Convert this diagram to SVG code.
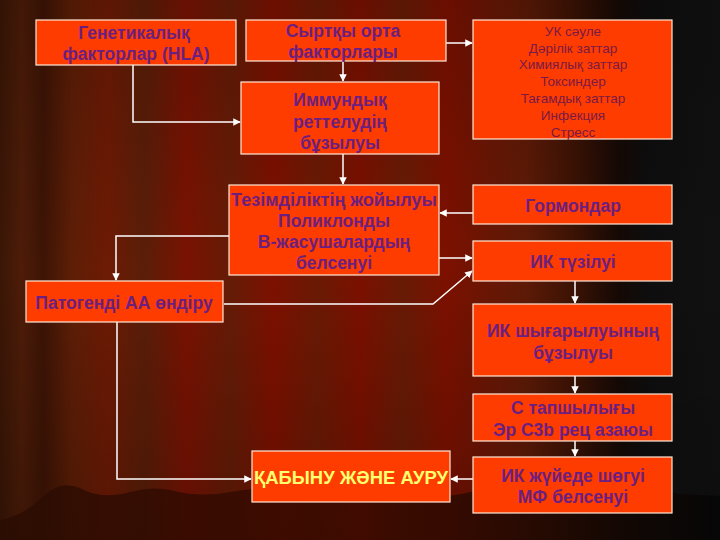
<svg xmlns="http://www.w3.org/2000/svg" width="720" height="540" viewBox="0 0 720 540">
<defs>
<linearGradient id="stripes" x1="0" y1="0" x2="1" y2="0">
<stop offset="0" stop-color="#3a1606"/>
<stop offset="0.03" stop-color="#4e1c08"/>
<stop offset="0.06" stop-color="#3d1405"/>
<stop offset="0.1" stop-color="#5e1e06"/>
<stop offset="0.15" stop-color="#6e1a04"/>
<stop offset="0.2" stop-color="#5a1e08"/>
<stop offset="0.26" stop-color="#7a1202"/>
<stop offset="0.32" stop-color="#651c06"/>
<stop offset="0.38" stop-color="#7e1000"/>
<stop offset="0.44" stop-color="#6a1a04"/>
<stop offset="0.5" stop-color="#7c1000"/>
<stop offset="0.56" stop-color="#681b05"/>
<stop offset="0.62" stop-color="#7d1000"/>
<stop offset="0.68" stop-color="#6a1604"/>
<stop offset="0.73" stop-color="#5e1a06"/>
<stop offset="0.8" stop-color="#3a1204"/>
<stop offset="0.86" stop-color="#150905"/>
<stop offset="0.9" stop-color="#0e0e0e"/>
<stop offset="1" stop-color="#111111"/>
</linearGradient>
<linearGradient id="shade" x1="0" y1="0" x2="0" y2="1">
<stop offset="0" stop-color="#000" stop-opacity="0.15"/>
<stop offset="0.5" stop-color="#000" stop-opacity="0"/>
<stop offset="1" stop-color="#000" stop-opacity="0.2"/>
</linearGradient>
<linearGradient id="floor" x1="0" y1="0" x2="1" y2="0">
<stop offset="0" stop-color="#2a0c02"/>
<stop offset="0.5" stop-color="#3a0a00"/>
<stop offset="0.8" stop-color="#1a0802"/>
<stop offset="1" stop-color="#050505"/>
</linearGradient>
<marker id="ah" viewBox="0 0 10 10" refX="9" refY="5" markerWidth="5" markerHeight="5" orient="auto" markerUnits="strokeWidth">
<path d="M0,0 L10,5 L0,10 z" fill="#ffffff"/>
</marker>
<style>
.box{fill:#ff3c00;stroke:#ffe8d8;stroke-width:1.2}
.t{font-family:"Liberation Sans",Arial,sans-serif;font-weight:bold;font-size:17.5px;fill:#6b1f80;text-anchor:middle}
.s{font-family:"Liberation Sans",Arial,sans-serif;font-size:13.5px;fill:#7a1a45;text-anchor:middle}
.y{font-family:"Liberation Sans",Arial,sans-serif;font-weight:bold;font-size:19px;fill:#ffff70;text-anchor:middle}
.c{fill:none;stroke:#ffffff;stroke-width:1.5}
</style>
</defs>
<g id="background">
<rect width="720" height="540" fill="url(#stripes)"/>
<rect width="720" height="540" fill="url(#shade)"/>
<path d="M0,520 Q25,515 45,495 Q60,480 80,488 Q100,500 130,492 Q150,486 170,490 Q200,498 230,492 Q260,486 290,492 Q320,498 350,490 Q380,484 410,492 Q440,500 470,492 Q500,486 530,494 Q560,500 600,492 Q640,486 680,494 L720,496 L720,540 L0,540 Z" fill="url(#floor)" opacity="0.85"/>
</g>
<g id="connectors">
<path class="c" d="M133,65 V122 H240" marker-end="url(#ah)"/>
<path class="c" d="M343,61 V81" marker-end="url(#ah)"/>
<path class="c" d="M446,43 H472" marker-end="url(#ah)"/>
<path class="c" d="M343,154 V184" marker-end="url(#ah)"/>
<path class="c" d="M473,213 H440" marker-end="url(#ah)"/>
<path class="c" d="M439,258 H472" marker-end="url(#ah)"/>
<path class="c" d="M224,304 H433 L472,271" marker-end="url(#ah)"/>
<path class="c" d="M229,236 H116 V280" marker-end="url(#ah)"/>
<path class="c" d="M117,322 V479 H251" marker-end="url(#ah)"/>
<path class="c" d="M473,479 H451" marker-end="url(#ah)"/>
<path class="c" d="M575,281 V303" marker-end="url(#ah)"/>
<path class="c" d="M575,376 V393" marker-end="url(#ah)"/>
<path class="c" d="M575,441 V456" marker-end="url(#ah)"/>
</g>
<g id="n-genetic">
<rect class="box" x="36" y="20" width="200" height="45"/>
<text class="t" x="134" y="39">Генетикалық</text>
<text class="t" x="136" y="60">факторлар (HLA)</text>
</g>
<g id="n-external">
<rect class="box" x="246" y="20" width="200" height="41"/>
<text class="t" x="343" y="37">Сыртқы орта</text>
<text class="t" x="343" y="58">факторлары</text>
</g>
<g id="n-list">
<rect class="box" x="473" y="20" width="199" height="119"/>
<text class="s" x="573" y="36">УК сәуле</text>
<text class="s" x="573" y="53">Дәрілік заттар</text>
<text class="s" x="573" y="69">Химиялық заттар</text>
<text class="s" x="573" y="86">Токсиндер</text>
<text class="s" x="573" y="103">Тағамдық заттар</text>
<text class="s" x="573" y="120">Инфекция</text>
<text class="s" x="573" y="137">Стресс</text>
</g>
<g id="n-immune">
<rect class="box" x="241" y="82" width="198" height="72"/>
<text class="t" x="340" y="106">Иммундық</text>
<text class="t" x="340" y="128">реттелудің</text>
<text class="t" x="340" y="149">бұзылуы</text>
</g>
<g id="n-tolerance">
<rect class="box" x="229" y="185" width="210" height="90"/>
<text class="t" x="334" y="206" textLength="206" lengthAdjust="spacingAndGlyphs">Тезімділіктің жойылуы</text>
<text class="t" x="334" y="227">Поликлонды</text>
<text class="t" x="334" y="248">В-жасушалардың</text>
<text class="t" x="334" y="269">белсенуі</text>
</g>
<g id="n-hormones">
<rect class="box" x="473" y="185" width="199" height="39"/>
<text class="t" x="573" y="212">Гормондар</text>
</g>
<g id="n-ic">
<rect class="box" x="473" y="241" width="199" height="40"/>
<text class="t" x="573" y="268">ИК түзілуі</text>
</g>
<g id="n-pathogenic">
<rect class="box" x="26" y="281" width="197" height="41"/>
<text class="t" x="124" y="309">Патогенді АА өндіру</text>
</g>
<g id="n-ic-clear">
<rect class="box" x="473" y="304" width="199" height="72"/>
<text class="t" x="573" y="337">ИК шығарылуының</text>
<text class="t" x="573" y="359">бұзылуы</text>
</g>
<g id="n-c-def">
<rect class="box" x="473" y="394" width="199" height="47"/>
<text class="t" x="573" y="414">С тапшылығы</text>
<text class="t" x="573" y="436">Эр С3b рец азаюы</text>
</g>
<g id="n-ic-deposit">
<rect class="box" x="473" y="457" width="199" height="56"/>
<text class="t" x="573" y="482">ИК жүйеде шөгуі</text>
<text class="t" x="573" y="503">МФ белсенуі</text>
</g>
<g id="n-inflammation">
<rect class="box" x="252" y="451" width="198" height="51"/>
<text class="y" x="351" y="484" textLength="194" lengthAdjust="spacingAndGlyphs">ҚАБЫНУ ЖӘНЕ АУРУ</text>
</g>
</svg>
